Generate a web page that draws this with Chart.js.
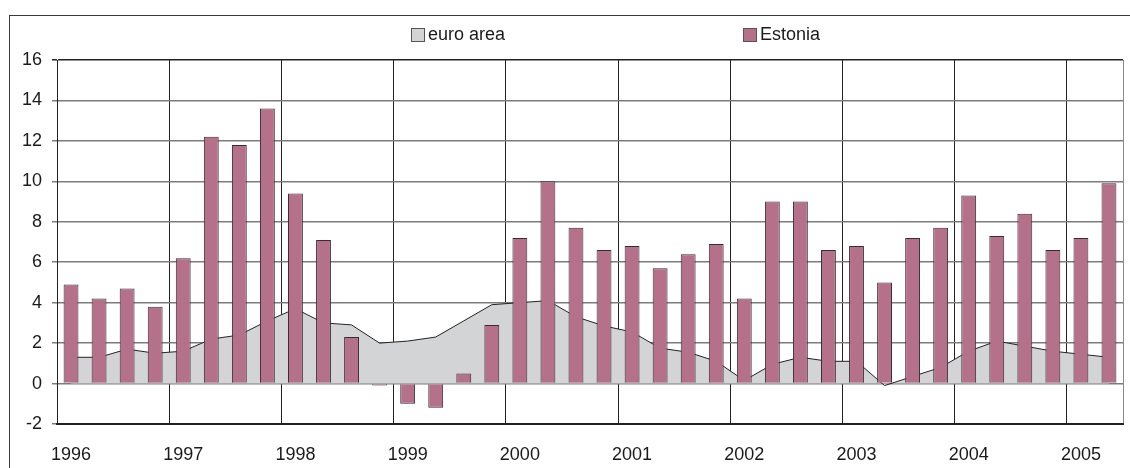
<!DOCTYPE html>
<html>
<head>
<meta charset="utf-8">
<script src="https://cdn.jsdelivr.net/npm/chart.js@4/dist/chart.umd.min.js"></script>
<style>
  html, body { margin: 0; padding: 0; background: #fff; overflow: hidden; }
  #wrap { position: relative; width: 1130px; height: 468px; }
  #frame { position: absolute; left: 9px; top: 15px; width: 1200px; height: 500px;
           border-left: 1px solid #3a3a3a; border-top: 1px solid #3a3a3a; }
  #chart { position: absolute; left: 0; top: 0; }
  .leg { position: absolute; top: 25px; font: 18px "Liberation Sans", Arial, sans-serif;
         color: #1a1a1a; line-height: 18px; white-space: nowrap; }
  .leg i { position: absolute; top: 3px; width: 12px; height: 12px; border: 1px solid #555; }
</style>
</head>
<body>
<div id="wrap">
  <div id="frame"></div>
  <canvas id="chart" width="1130" height="468"></canvas>
  <div id="legend"></div>
</div>
<script>
// quarterly data, 1996 Q1 - 2005 Q2
const quarters = [
  '1996 Q1','1996 Q2','1996 Q3','1996 Q4',
  '1997 Q1','1997 Q2','1997 Q3','1997 Q4',
  '1998 Q1','1998 Q2','1998 Q3','1998 Q4',
  '1999 Q1','1999 Q2','1999 Q3','1999 Q4',
  '2000 Q1','2000 Q2','2000 Q3','2000 Q4',
  '2001 Q1','2001 Q2','2001 Q3','2001 Q4',
  '2002 Q1','2002 Q2','2002 Q3','2002 Q4',
  '2003 Q1','2003 Q2','2003 Q3','2003 Q4',
  '2004 Q1','2004 Q2','2004 Q3','2004 Q4',
  '2005 Q1','2005 Q2'
];

const euroArea = [
  1.3, 1.3, 1.7, 1.5,
  1.6, 2.2, 2.4, 3.1,
  3.7, 3.0, 2.9, 2.0,
  2.1, 2.3, 3.1, 3.9,
  4.0, 4.1, 3.3, 2.85,
  2.55, 1.75, 1.55, 1.1,
  0.15, 0.95, 1.3, 1.1,
  1.1, -0.1, 0.35, 0.8,
  1.6, 2.1, 1.85, 1.6,
  1.45, 1.3
];

const estonia = [
  4.9, 4.2, 4.7, 3.8,
  6.2, 12.2, 11.8, 13.6,
  9.4, 7.1, 2.3, -0.1,
  -1.0, -1.2, 0.5, 2.9,
  7.2, 10.0, 7.7, 6.6,
  6.8, 5.7, 6.4, 6.9,
  4.2, 9.0, 9.0, 6.6,
  6.8, 5.0, 7.2, 7.7,
  9.3, 7.3, 8.4, 6.6,
  7.2, 9.9
];

const seriesNames = ['euro area', 'Estonia'];
const seriesColors = ['#d3d4d6', '#b5708a'];

const FONT = { family: '"Liberation Sans", Arial, sans-serif', size: 18 };

// simple html legend, spread out like the original
const legendPos = [411, 743];
const legendEl = document.getElementById('legend');
seriesNames.forEach((name, i) => {
  const d = document.createElement('div');
  d.className = 'leg';
  d.style.left = legendPos[i] + 'px';
  d.innerHTML = '<i style="left:0;background:' + seriesColors[i] + '"></i>' +
                '<span style="margin-left:17px">' + name + '</span>';
  legendEl.appendChild(d);
});

new Chart(document.getElementById('chart').getContext('2d'), {
  type: 'bar',
  data: {
    labels: quarters,
    datasets: [
      {
        type: 'bar',
        label: seriesNames[1],
        data: estonia,
        backgroundColor: seriesColors[1],
        borderColor: '#3a2c31',
        borderWidth: 1,
        categoryPercentage: 1,
        barPercentage: 0.53,
        order: 0
      },
      {
        type: 'line',
        label: seriesNames[0],
        data: euroArea,
        backgroundColor: seriesColors[0],
        borderColor: '#222',
        borderWidth: 1,
        pointRadius: 0,
        tension: 0,
        fill: 'origin',
        order: 1
      }
    ]
  },
  options: {
    responsive: false,
    animation: false,
    devicePixelRatio: 1,
    layout: { padding: { left: 0, right: 7, top: 60, bottom: 0 } },
    plugins: {
      legend: { display: false },
      tooltip: { enabled: false }
    },
    scales: {
      x: {
        offset: true,
        grid: {
          offset: true,
          drawTicks: false,
          lineWidth: 1,
          color: c => {
            if (c.type !== 'tick') return '#8a8a8a';   // right edge of plot
            return c.index % 4 === 0 ? '#222' : 'rgba(0,0,0,0)';
          }
        },
        border: { color: '#222', width: 2 },
        ticks: {
          autoSkip: false,
          maxRotation: 0,
          padding: 20,
          color: '#1a1a1a',
          font: FONT,
          callback: (v, i) => quarters[i].endsWith('Q1') ? quarters[i].slice(0, 4) : ''
        },
        afterFit: s => { s.height = 44; }
      },
      y: {
        min: -2,
        max: 16,
        ticks: { stepSize: 2, padding: 10, color: '#1a1a1a', font: FONT },
        grid: {
          tickLength: 5,
          lineWidth: 1.5,
          color: c => (c.tick && c.tick.value === 16) ? '#222' : '#7c7c7c'
        },
        border: { color: '#222', width: 1 },
        afterFit: s => { s.width = 57; }
      }
    }
  }
});
</script>
</body>
</html>
